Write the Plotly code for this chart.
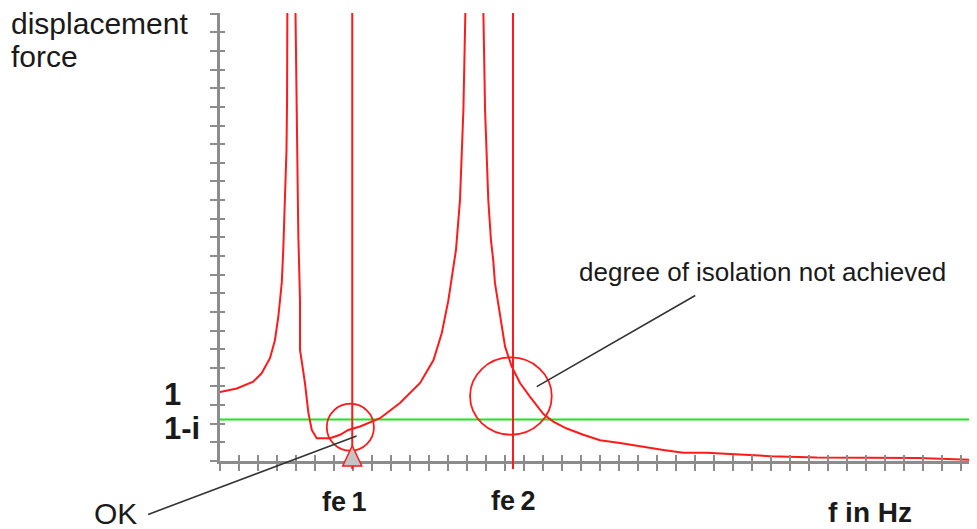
import plotly.graph_objects as go

# response curve (x in tick units, y in displacement/force ratio)
curve_x = [0, 0.88, 1.75, 2.19, 2.63, 2.89, 3.07, 3.25, 3.33, 3.42, 3.50, 3.53, 3.55,
           3.95, 4.04, 4.12, 4.21, 4.21, 4.37, 4.47, 4.65, 4.83, 5.09, 5.79, 6.32, 6.75,
           7.37, 7.89, 8.42, 9.47, 10.53, 11.23, 11.67, 12.02, 12.19, 12.42, 12.63, 12.72,
           12.81, 12.95,
           13.83, 13.95, 14.04, 14.12, 14.26, 14.38, 14.47, 14.74, 15.0, 15.35, 15.79,
           16.32, 17.02, 17.54, 18.25, 19.12, 20.0, 21.05, 22.11, 23.33, 24.38, 25.62,
           26.84, 28.95, 31.42, 36.74, 39.84]
curve_y = [1.0, 1.05, 1.15, 1.27, 1.49, 1.75, 2.09, 2.58, 3.06, 3.78, 4.51, 5.23, 7.0,
           7.0, 4.51, 3.30, 2.33, 1.61, 1.32, 1.13, 0.70, 0.45, 0.33, 0.33, 0.38, 0.45,
           0.50, 0.555, 0.62, 0.84, 1.13, 1.46, 1.85, 2.33, 2.67, 3.06, 3.78, 4.51,
           5.09, 7.0,
           7.0, 5.09, 4.51, 3.78, 3.20, 2.91, 2.58, 2.09, 1.66, 1.37, 1.13,
           0.93, 0.68, 0.57, 0.47, 0.38, 0.30, 0.26, 0.21, 0.16, 0.12, 0.12,
           0.10, 0.07, 0.05, 0.043, 0.015]

iso_level = 0.6      # 1-i
fe1 = 6.96
fe2 = 15.42
x_max = 39.84
y_max = 6.49
y_step = 0.27

red = "#ff1a1a"
green = "#22e022"
gray = "#8c8c8c"
txt = "#1a1a1a"
font = "Liberation Sans, Arial, sans-serif"

fig = go.Figure()

fig.add_trace(go.Scatter(x=[0, x_max], y=[iso_level, iso_level], mode="lines",
                         line=dict(color=green, width=2), hoverinfo="skip"))
fig.add_trace(go.Scatter(x=curve_x, y=curve_y, mode="lines",
                         line=dict(color=red, width=2), hoverinfo="skip"))
# dummy trace so the overlay axes (inner tick halves) exist
fig.add_trace(go.Scatter(x=[None], y=[None], xaxis="x2", yaxis="y2", hoverinfo="skip"))

# fe lines
for fe in (fe1, fe2):
    fig.add_shape(type="line", xref="x", yref="paper", x0=fe, x1=fe, y0=-0.018, y1=1,
                  line=dict(color=red, width=2))

# check circles
fig.add_shape(type="circle", xref="x", yref="y", x0=5.62, x1=8.1, y0=0.15, y1=0.83,
              line=dict(color=red, width=1.8))
fig.add_shape(type="circle", xref="x", yref="y", x0=13.16, x1=17.46, y0=0.38, y1=1.50,
              line=dict(color=red, width=1.8))

# triangle marker under fe1
tri_w = 0.5
fig.add_shape(type="path", xref="x", yref="paper",
              path=f"M {fe1 - tri_w} -0.011 L {fe1 + tri_w} -0.011 L {fe1} 0.034 Z",
              fillcolor="#c4c4c4", line=dict(color=red, width=1.5))

axis_common = dict(showgrid=False, zeroline=False, showticklabels=False,
                   tickcolor=gray, tickwidth=2)
# page body adds 8px margin, so the figure is laid out 8px up/left
fig.update_layout(
    width=977, height=529,
    margin=dict(l=212, r=8, t=5, b=76),
    plot_bgcolor="white", paper_bgcolor="white",
    showlegend=False,
    xaxis=dict(range=[0, x_max], tick0=0, dtick=1, ticks="outside", ticklen=7,
               showline=True, linecolor=gray, linewidth=3, **axis_common),
    yaxis=dict(range=[0, y_max], tick0=0, dtick=y_step, ticks="outside", ticklen=7,
               showline=True, linecolor=gray, linewidth=3, **axis_common),
    xaxis2=dict(range=[0, x_max], tick0=0, dtick=1, ticks="inside", ticklen=6,
                overlaying="x", anchor="y2", showline=False, **axis_common),
    yaxis2=dict(range=[0, y_max], tick0=0, dtick=y_step, ticks="inside", ticklen=5,
                overlaying="y", anchor="x2", showline=False, **axis_common),
)

ann = []
ann.append(dict(text="displacement", xref="paper", yref="paper", x=0, y=1, xshift=-211,
                yshift=-10, xanchor="left", yanchor="middle", showarrow=False,
                font=dict(size=30, color=txt, family=font)))
ann.append(dict(text="force", xref="paper", yref="paper", x=0, y=1, xshift=-211,
                yshift=-43, xanchor="left", yanchor="middle", showarrow=False,
                font=dict(size=30, color=txt, family=font)))
ann.append(dict(text="<b>1</b>", xref="paper", yref="y", x=0, y=1.0, xshift=-58, yshift=-3,
                xanchor="left", yanchor="middle", showarrow=False,
                font=dict(size=31, color=txt, family=font)))
ann.append(dict(text="<b>1-i</b>", xref="paper", yref="y", x=0, y=iso_level, xshift=-58,
                yshift=-9, xanchor="left", yanchor="middle", showarrow=False,
                font=dict(size=31, color=txt, family=font)))
ann.append(dict(text="<b>fe\u20091</b>", xref="x", yref="paper", x=fe1, y=0, xshift=-8,
                yshift=-41, xanchor="center", yanchor="middle", showarrow=False,
                font=dict(size=27, color=txt, family=font)))
ann.append(dict(text="<b>fe\u20092</b>", xref="x", yref="paper", x=fe2, y=0, xshift=0,
                yshift=-40, xanchor="center", yanchor="middle", showarrow=False,
                font=dict(size=27, color=txt, family=font)))
ann.append(dict(text="<b>f in Hz</b>", xref="paper", yref="paper", x=0.8587, y=0,
                yshift=-51, xanchor="center", yanchor="middle", showarrow=False,
                font=dict(size=28, color=txt, family=font)))
ann.append(dict(text="OK", xref="paper", yref="paper", x=0, y=0, xshift=-105, yshift=-52,
                xanchor="center", yanchor="middle", showarrow=False,
                font=dict(size=30, color=txt, family=font)))
ann.append(dict(text="degree of isolation not achieved", xref="x", yref="y", x=28.53,
                y=2.74, xanchor="center", yanchor="middle", showarrow=False,
                font=dict(size=26, color=txt, family=font)))
# pointer lines
ann.append(dict(text="", xref="x", yref="y", x=7.19, y=0.362, ax=-210, ay=79,
                showarrow=True, arrowhead=0, arrowwidth=1.6, arrowcolor="#333333",
                standoff=0))
ann.append(dict(text="", xref="x", yref="y", x=16.67, y=1.077, ax=160, ay=-92,
                showarrow=True, arrowhead=0, arrowwidth=1.6, arrowcolor="#333333",
                standoff=0))
fig.update_layout(annotations=ann)

fig.write_html("out.html")
